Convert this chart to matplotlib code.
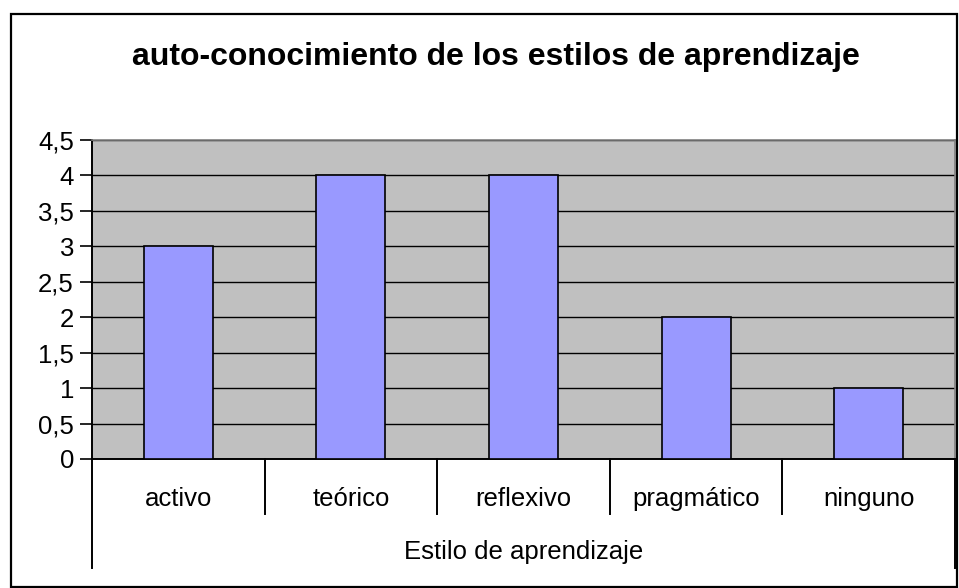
import matplotlib
matplotlib.use("Agg")
import matplotlib.pyplot as plt
from matplotlib.patches import Rectangle
from matplotlib.ticker import FuncFormatter, MultipleLocator

categories = ["activo", "teórico", "reflexivo", "pragmático", "ninguno"]
values = [3, 4, 4, 2, 1]
title = "auto-conocimiento de los estilos de aprendizaje"
xlabel = "Estilo de aprendizaje"

plt.rcParams['font.family'] = ['Liberation Sans', 'DejaVu Sans']

W, H = 959, 588
fig = plt.figure(figsize=(W / 100, H / 100), dpi=100)

# Figure border
fig.patches.append(Rectangle((11 / W, 1 - 587 / H), (957 - 11) / W, (587 - 14) / H,
                             transform=fig.transFigure, fill=False, edgecolor='black',
                             linewidth=1.6, zorder=10))

L, R, T, B = 92, 955, 140, 459
ax = fig.add_axes([L / W, 1 - B / H, (R - L) / W, (B - T) / H])
ax.set_facecolor('#C0C0C0')

x = range(len(categories))
ax.bar(x, values, width=0.4, color='#9999FF', edgecolor='black', linewidth=1.2, zorder=3)

ax.set_xlim(-0.5, len(categories) - 0.5)
ax.set_ylim(0, 4.5)
ax.yaxis.set_major_locator(MultipleLocator(0.5))
ax.yaxis.set_major_formatter(FuncFormatter(lambda v, p: (f"{v:g}").replace('.', ',')))
ax.grid(axis='y', color='black', linewidth=1.0, zorder=1)
ax.set_axisbelow(True)
ax.tick_params(axis='y', direction='out', length=9, width=1.2, labelsize=18.5, pad=4)
ax.set_xticks([])

for s in ['top', 'right']:
    ax.spines[s].set_color('#808080')
    ax.spines[s].set_linewidth(1.2)
for s in ['left', 'bottom']:
    ax.spines[s].set_color('black')
    ax.spines[s].set_linewidth(1.4)

ph = B - T
inner = -(514 - B) / ph
outer = -(568 - B) / ph
tr = ax.get_xaxis_transform()
n = len(categories)
for i in range(n + 1):
    xb = i - 0.5
    y1 = outer if i in (0, n) else inner
    ax.plot([xb, xb], [0, y1], color='black', linewidth=1.4, transform=tr, clip_on=False)

for i, c in enumerate(categories):
    ax.text(i, -(499 - B) / ph, c, transform=tr, ha='center', va='center', fontsize=18.5)

ax.text((n - 1) / 2, -(552 - B) / ph, xlabel, transform=tr, ha='center', va='center', fontsize=18.5)

fig.text(496 / W, 1 - 57 / H, title, ha='center', va='center', fontsize=23, fontweight='bold')

fig.savefig("out.png", dpi=100)
